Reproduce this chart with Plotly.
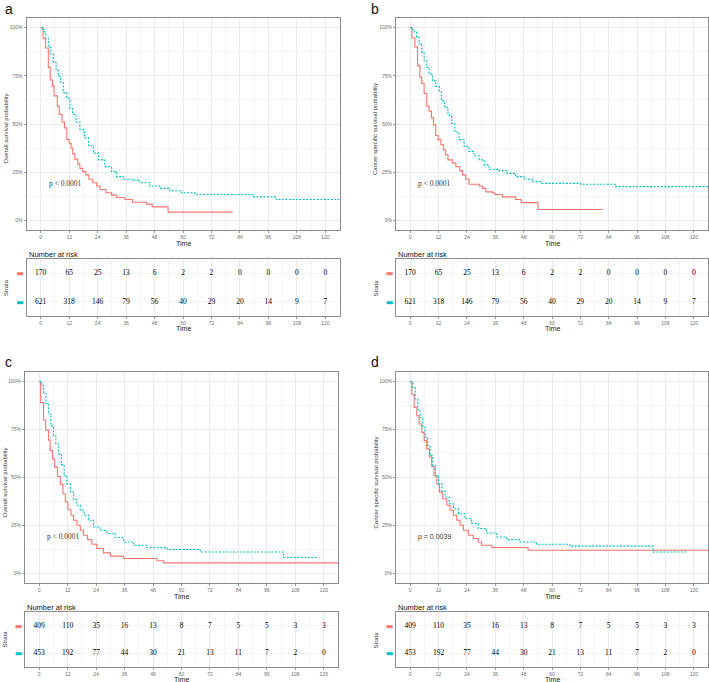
import plotly.graph_objects as go

W, H = 709, 682
RED = "#F8766D"
TEAL = "#00BFC4"

# ---------------- data ----------------
risk_times = [0, 12, 24, 36, 48, 60, 72, 84, 96, 108, 120]
time_ticks = [0, 12, 24, 36, 48, 60, 72, 84, 96, 108, 120]
surv_ticks = [0, 0.25, 0.5, 0.75, 1.0]
surv_tick_labels = ["0%", "25%", "50%", "75%", "100%"]

# panel a (overall survival)
a_red_t = [1.0, 2.0, 3.2, 4.0, 5.0, 5.6, 7.0, 7.8, 9.0, 10.0, 11.0, 12.0, 12.8, 13.5, 14.4, 15.6, 16.5, 17.7,
           19.0, 20.3, 21.9, 23.6, 25.0, 27.5, 29.9, 32.0, 35.5, 38.7, 44.6, 47.0, 53.7, 81.0]
a_red_s = [0.942, 0.894, 0.794, 0.728, 0.695, 0.646, 0.593, 0.55, 0.51, 0.48, 0.42, 0.40, 0.375, 0.345, 0.318,
           0.293, 0.27, 0.253, 0.236, 0.213, 0.195, 0.178, 0.16, 0.143, 0.131, 0.119, 0.108, 0.094, 0.084, 0.07,
           0.043, 0.043]
a_teal_t = [0.8, 1.5, 2.1, 3.2, 4.0, 5.3, 6.5, 7.4, 8.4, 9.5, 11.0, 12.3, 13.4, 14.9, 16.5, 18.4, 20.2, 22.2,
            24.4, 27.0, 29.9, 32.0, 34.8, 39.0, 41.8, 46.0, 50.2, 54.4, 59.3, 65.0, 89.5, 99.3, 130.0]
a_teal_s = [0.99, 0.977, 0.946, 0.90, 0.864, 0.82, 0.777, 0.747, 0.716, 0.663, 0.632, 0.58, 0.55, 0.51, 0.471,
            0.428, 0.387, 0.349, 0.314, 0.279, 0.253, 0.227, 0.213, 0.209, 0.195, 0.178, 0.166, 0.154, 0.143,
            0.134, 0.122, 0.108, 0.108]

# panel b (cancer specific survival)
b_red_t = [0.7, 2.0, 3.1, 4.1, 4.9, 5.9, 7.0, 8.0, 9.0, 9.9, 10.8, 11.8, 13.0, 14.1, 15.0, 16.0, 17.9, 19.3,
           21.0, 22.1, 23.5, 24.9, 29.2, 30.6, 32.0, 34.8, 35.8, 39.0, 44.6, 47.0, 54.1, 81.3]
b_red_s = [0.946, 0.90, 0.803, 0.742, 0.71, 0.658, 0.593, 0.567, 0.532, 0.497, 0.44, 0.419, 0.393, 0.366, 0.34,
           0.314, 0.297, 0.279, 0.258, 0.236, 0.213, 0.187, 0.178, 0.166, 0.148, 0.143, 0.134, 0.122, 0.108,
           0.092, 0.056, 0.056]
b_teal_t = [1.0, 1.7, 2.7, 3.8, 4.8, 5.9, 7.0, 8.0, 9.4, 10.8, 12.3, 13.2, 14.6, 16.0, 17.5, 18.9, 20.7, 22.8,
            24.9, 27.0, 29.2, 31.3, 33.4, 36.9, 41.1, 44.6, 48.2, 51.7, 55.2, 72.1, 86.9, 130.0]
b_teal_s = [0.99, 0.977, 0.951, 0.916, 0.873, 0.829, 0.794, 0.759, 0.724, 0.695, 0.672, 0.62, 0.585, 0.545,
            0.503, 0.457, 0.419, 0.384, 0.358, 0.335, 0.314, 0.288, 0.265, 0.258, 0.244, 0.227, 0.213, 0.20,
            0.192, 0.187, 0.175, 0.175]

# panel c (overall survival)
c_red_t = [0.6, 1.8, 2.7, 3.9, 4.6, 5.6, 6.5, 7.7, 8.9, 10.0, 11.0, 12.1, 13.4, 14.5, 15.9, 17.3, 18.7, 20.4,
           22.2, 24.3, 27.1, 30.0, 35.6, 49.6, 52.5, 130.0]
c_red_s = [0.891, 0.80, 0.747, 0.695, 0.64, 0.597, 0.554, 0.505, 0.464, 0.415, 0.372, 0.332, 0.303, 0.277,
           0.251, 0.225, 0.199, 0.176, 0.152, 0.13, 0.107, 0.09, 0.078, 0.066, 0.055, 0.055]
c_teal_t = [1.0, 1.8, 2.8, 3.9, 4.9, 6.0, 7.0, 8.2, 9.3, 10.5, 11.7, 13.1, 14.5, 15.9, 17.3, 19.0, 20.8, 22.9,
            25.7, 28.6, 32.0, 35.6, 39.8, 45.4, 53.9, 67.9, 103.0, 117.9]
c_teal_s = [0.978, 0.938, 0.886, 0.83, 0.77, 0.718, 0.675, 0.623, 0.567, 0.51, 0.467, 0.424, 0.384, 0.355,
            0.329, 0.303, 0.277, 0.242, 0.225, 0.208, 0.187, 0.164, 0.147, 0.135, 0.125, 0.112, 0.083, 0.083]

# panel d (cancer specific survival)
d_red_t = [0.7, 1.7, 2.8, 3.8, 4.9, 5.9, 7.0, 8.2, 9.1, 10.1, 11.3, 12.4, 13.8, 15.5, 16.9, 18.3, 19.7, 21.1,
           22.5, 24.6, 26.7, 28.8, 30.2, 34.5, 49.9, 130.0]
d_red_s = [0.934, 0.865, 0.822, 0.779, 0.735, 0.692, 0.649, 0.606, 0.557, 0.51, 0.467, 0.424, 0.389, 0.355,
           0.329, 0.303, 0.277, 0.251, 0.225, 0.199, 0.182, 0.164, 0.147, 0.135, 0.121, 0.121]
d_teal_t = [1.1, 2.1, 3.2, 4.2, 5.3, 6.3, 7.3, 8.4, 9.6, 10.7, 12.0, 13.4, 14.8, 16.5, 18.3, 20.4, 23.2, 26.0,
            28.8, 32.3, 36.6, 40.8, 46.4, 53.4, 67.5, 102.7, 117.4]
d_teal_s = [0.969, 0.908, 0.856, 0.813, 0.761, 0.709, 0.666, 0.614, 0.562, 0.51, 0.467, 0.429, 0.398, 0.363,
            0.337, 0.311, 0.285, 0.26, 0.234, 0.211, 0.19, 0.176, 0.164, 0.152, 0.142, 0.112, 0.112]

risk_ab_red = [170, 65, 25, 13, 6, 2, 2, 0, 0, 0, 0]
risk_ab_teal = [621, 318, 146, 79, 56, 40, 29, 20, 14, 9, 7]
risk_cd_red = [409, 110, 35, 16, 13, 8, 7, 5, 5, 3, 3]
risk_cd_teal = [453, 192, 77, 44, 30, 21, 13, 11, 7, 2, 0]

panel_letters = ["a", "b", "c", "d"]
y_titles = ["Overall survival probability", "Cancer specific survival probability",
            "Overall survival probability", "Cancer specific survival probability"]
p_texts = ["p < 0.0001", "p < 0.0001", "p < 0.0001", "p = 0.0039"]

# ---------------- layout geometry (pixels) ----------------
def px_x(v):
    return v / W

def px_y(v):
    return 1 - v / H

panels = [
    dict(x0=26.5, x1=339.5, py0=18, py1=230, ty0=259, ty1=316, ly=9, lx=3,
         red=(a_red_t, a_red_s), teal=(a_teal_t, a_teal_s), risk=(risk_ab_red, risk_ab_teal)),
    dict(x0=396, x1=708, py0=18, py1=230, ty0=259, ty1=316, ly=9, lx=369,
         red=(b_red_t, b_red_s), teal=(b_teal_t, b_teal_s), risk=(risk_ab_red, risk_ab_teal)),
    dict(x0=25, x1=338, py0=372, py1=583, ty0=612, ty1=667, ly=362, lx=3,
         red=(c_red_t, c_red_s), teal=(c_teal_t, c_teal_s), risk=(risk_cd_red, risk_cd_teal)),
    dict(x0=396, x1=708, py0=372, py1=583, ty0=612, ty1=667, ly=362, lx=369,
         red=(d_red_t, d_red_s), teal=(d_teal_t, d_teal_s), risk=(risk_cd_red, risk_cd_teal)),
]

fig = go.Figure()
layout = dict(width=W, height=H, margin=dict(l=0, r=0, t=0, b=0), paper_bgcolor="white",
              plot_bgcolor="white", showlegend=False,
              font=dict(family="Liberation Sans", color="#333333"))
annotations = []

GRID = "#EBEBEB"
GRID_MINOR = "#F4F4F4"
BORDER = "#8C8C8C"
TICKFONT = dict(family="Liberation Sans", size=5, color="#6E6E6E")
NUMFONT = dict(family="Liberation Serif", size=7.5, color="#000000")

for i, p in enumerate(panels):
    kx = 2 * i + 1
    kt = 2 * i + 2
    xa = "x" if kx == 1 else f"x{kx}"
    ya = "y" if kx == 1 else f"y{kx}"
    xt = f"x{kt}"
    yt = f"y{kt}"

    for (tt, ss), col, dash in [(p["red"], RED, "solid"), (p["teal"], TEAL, "2px,1.5px")]:
        xs = [0] + list(tt)
        ys = [1.0] + list(ss)
        fig.add_trace(go.Scatter(x=xs, y=ys, mode="lines", line=dict(color=col, width=1.1, dash=dash, shape="hv"),
                                 xaxis=xa, yaxis=ya, hoverinfo="skip", cliponaxis=True))

    rr, rt = p["risk"]
    fig.add_trace(go.Scatter(x=risk_times, y=[2] * len(risk_times), mode="text",
                             text=[str(v) for v in rr], textfont=NUMFONT,
                             xaxis=xt, yaxis=yt, hoverinfo="skip"))
    fig.add_trace(go.Scatter(x=risk_times, y=[1] * len(risk_times), mode="text",
                             text=[str(v) for v in rt], textfont=NUMFONT,
                             xaxis=xt, yaxis=yt, hoverinfo="skip"))

    xdom = [px_x(p["x0"]), px_x(p["x1"])]
    common_x = dict(range=[-6, 126], tickvals=time_ticks, ticktext=[str(v) for v in time_ticks],
                    showgrid=True, gridcolor=GRID, gridwidth=0.6,
                    minor=dict(dtick=6, tick0=0, showgrid=True, gridcolor=GRID_MINOR, gridwidth=0.5),
                    showline=True, mirror=True, linecolor=BORDER, linewidth=1,
                    ticks="outside", ticklen=2, tickcolor="#9A9A9A", tickwidth=0.6,
                    tickfont=TICKFONT, zeroline=False, domain=xdom, fixedrange=True)
    layout[f"xaxis{'' if kx == 1 else kx}"] = dict(common_x, anchor=ya)
    layout[f"yaxis{'' if kx == 1 else kx}"] = dict(
        range=[-0.05, 1.05], tickvals=surv_ticks, ticktext=surv_tick_labels,
        showgrid=True, gridcolor=GRID, gridwidth=0.6,
        minor=dict(dtick=0.125, tick0=0, showgrid=True, gridcolor=GRID_MINOR, gridwidth=0.5),
        showline=True, mirror=True, linecolor=BORDER, linewidth=1,
        ticks="outside", ticklen=2, tickcolor="#9A9A9A", tickwidth=0.6,
        tickfont=TICKFONT, zeroline=False, anchor=xa,
        domain=[px_y(p["py1"]), px_y(p["py0"])], fixedrange=True)
    layout[f"xaxis{kt}"] = dict(common_x, anchor=yt)
    layout[f"yaxis{kt}"] = dict(
        range=[0.5, 2.5], tickvals=[1, 2],
        ticktext=[f"<span style='color:{TEAL}'>▬</span>", f"<span style='color:{RED}'>▬</span>"],
        tickfont=dict(family="DejaVu Sans", size=8), showgrid=True, gridcolor=GRID_MINOR, gridwidth=0.5,
        showline=True, mirror=True, linecolor=BORDER, linewidth=1, ticks="", zeroline=False,
        anchor=xt, domain=[px_y(p["ty1"]), px_y(p["ty0"])], fixedrange=True)

    cx = (p["x0"] + p["x1"]) / 2
    left = p["x0"]
    # panel letter
    annotations.append(dict(text=panel_letters[i], x=px_x(p["lx"]), y=px_y(p["ly"]),
                            xref="paper", yref="paper", xanchor="left", yanchor="middle",
                            showarrow=False, font=dict(family="Liberation Sans", size=14, color="#111111")))
    # y title
    annotations.append(dict(text=y_titles[i], x=px_x(left - 21), y=px_y((p["py0"] + p["py1"]) / 2 + 5),
                            xref="paper", yref="paper", xanchor="center", yanchor="middle", textangle=-90,
                            showarrow=False, font=dict(family="Liberation Sans", size=6, color="#333333")))
    # Time labels
    for yy in (p["py1"] + 13, p["ty1"] + 12):
        annotations.append(dict(text="Time", x=px_x(cx), y=px_y(yy), xref="paper", yref="paper",
                                xanchor="center", yanchor="middle", showarrow=False,
                                font=dict(family="Liberation Sans", size=7, color="#222222")))
    # Number at risk
    annotations.append(dict(text="Number at risk", x=px_x(left), y=px_y(p["ty0"] - 5), xref="paper", yref="paper",
                            xanchor="left", yanchor="middle", showarrow=False,
                            font=dict(family="Liberation Sans", size=7.5, color="#111111")))
    # Strata
    annotations.append(dict(text="Strata", x=px_x(left - 21), y=px_y((p["ty0"] + p["ty1"]) / 2),
                            xref="paper", yref="paper", xanchor="center", yanchor="middle", textangle=-90,
                            showarrow=False, font=dict(family="Liberation Sans", size=6, color="#333333")))
    # p value
    annotations.append(dict(text=p_texts[i], x=2.5, y=0.19, xref=xa, yref=ya, xanchor="left", yanchor="middle",
                            showarrow=False,
                            font=dict(family="Liberation Serif" if i < 3 else "Liberation Sans",
                                      size=7.5 if i < 3 else 7, color="#333333")))

layout["annotations"] = annotations
fig.update_layout(**layout)
fig.write_html("out.html", config={"displayModeBar": False},
               post_script="document.body.style.margin='0';document.body.style.overflow='hidden';")
